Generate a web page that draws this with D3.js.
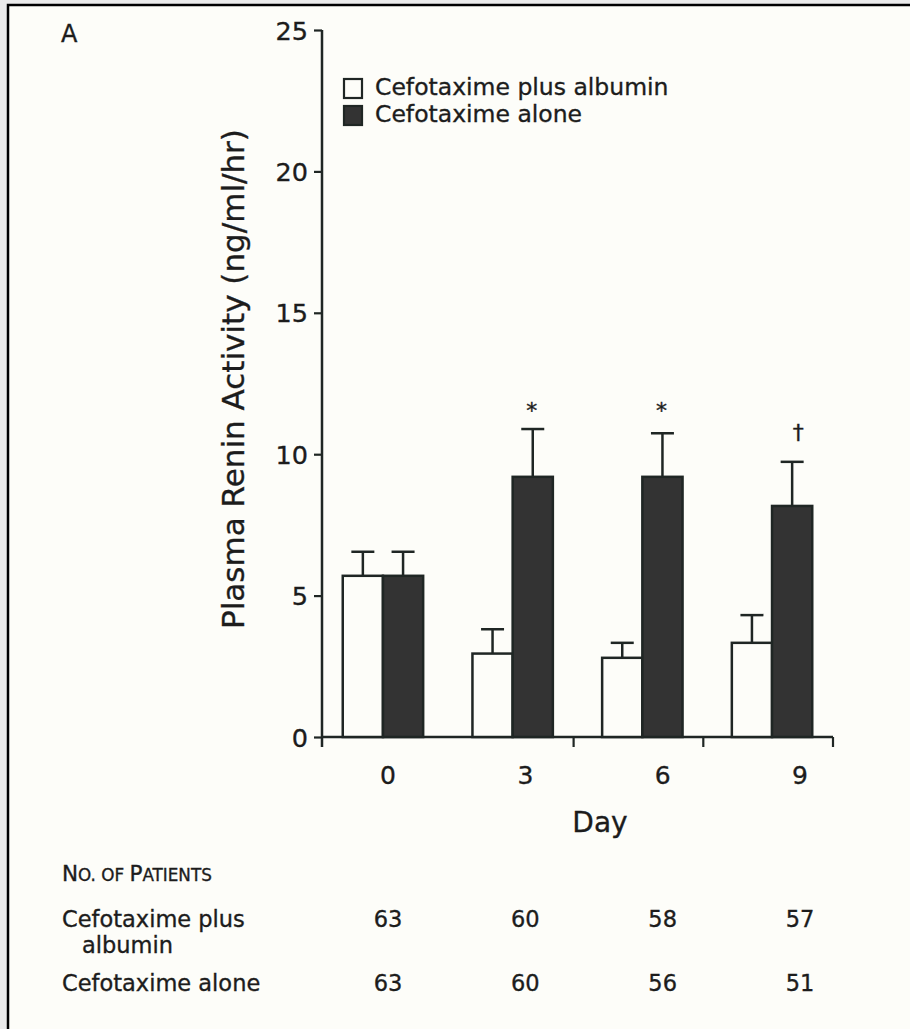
<!DOCTYPE html>
<html>
<head>
<meta charset="utf-8">
<script src="https://cdn.jsdelivr.net/npm/d3@7/dist/d3.min.js"></script>
<style>
  html, body { margin: 0; padding: 0; background: #ebebeb; }
  svg { display: block; }
  text { font-family: "DejaVu Sans", sans-serif; fill: #1c1c1c; stroke: #1c1c1c; stroke-width: 0.35px; }
</style>
</head>
<body>
<svg id="chart" width="910" height="1029"></svg>
<script>
// Plasma renin activity by day, two treatment groups (mean + SE)
const days = ["0", "3", "6", "9"];
const seriesNames = ["Cefotaxime plus albumin", "Cefotaxime alone"];
const albuminMean = [5.70, 2.95, 2.80, 3.33];
const albuminSE   = [0.85, 0.86, 0.53, 0.98];
const aloneMean   = [5.70, 9.20, 9.20, 8.17];
const aloneSE     = [0.85, 1.69, 1.54, 1.56];
const yTicks = [0, 5, 10, 15, 20, 25];
// significance marks placed above the "alone" bars (value = height in ng/ml/hr)
const marks = [
  { day: "3", symbol: "*", value: 11.28 },
  { day: "6", symbol: "*", value: 11.28 },
  { day: "9", symbol: "\u2020", value: 10.49 }
];
// number of patients table
const patientsAlbumin = [63, 60, 58, 57];
const patientsAlone   = [63, 60, 56, 51];

const svg = d3.select("#chart");

// page panel with frame on top and left
svg.append("rect").attr("x", 8).attr("y", 5).attr("width", 902).attr("height", 1024)
  .attr("fill", "#fdfdf9");
svg.append("path").attr("d", "M8,1029 V5 H910")
  .attr("fill", "none").attr("stroke", "#000").attr("stroke-width", 2.5);

const x0 = 322, x1 = 833, yTop = 30, yBottom = 737;

const x = d3.scaleBand().domain(days).range([x0, x1]).paddingInner(0.38).paddingOuter(0.16);
const xs = d3.scaleBand().domain([0, 1]).range([0, x.bandwidth()]);
const y = d3.scaleLinear().domain([0, 25]).range([yBottom, yTop]);
// columns for day labels and the patient table
const col = d3.scalePoint().domain(days).range([388, 800]);

const ink = "#1f2624";

// panel letter
svg.append("text").attr("x", 61).attr("y", 42).attr("font-size", 24).text("A");

// y axis
const yAxis = d3.axisLeft(y).tickValues(yTicks).tickSize(8).tickSizeOuter(0).tickPadding(6);
const gy = svg.append("g").attr("transform", `translate(${x0},0)`).call(yAxis);
gy.select(".domain").attr("stroke", ink).attr("stroke-width", 2.5)
  .attr("d", `M0,${yTop}V${yBottom + 10}`);
gy.selectAll(".tick line").attr("stroke", ink).attr("stroke-width", 2.2);
gy.selectAll(".tick text").attr("font-size", 25.5).attr("font-family", "DejaVu Sans")
  .attr("fill", "#1c1c1c").attr("dy", "0.36em");

// x axis: baseline with ticks at the day boundaries
const boundaries = [x1 - 3 * x.step(), x1 - 2 * x.step(), x1 - x.step(), x1].slice(1);
svg.append("line").attr("x1", x0).attr("x2", x1).attr("y1", yBottom).attr("y2", yBottom)
  .attr("stroke", ink).attr("stroke-width", 2.5);
svg.selectAll("line.xtick").data(boundaries).join("line").attr("class", "xtick")
  .attr("x1", d => d).attr("x2", d => d).attr("y1", yBottom).attr("y2", yBottom + 10)
  .attr("stroke", ink).attr("stroke-width", 2.2);

svg.selectAll("text.xlab").data(days).join("text").attr("class", "xlab")
  .attr("x", d => col(d)).attr("y", 784).attr("text-anchor", "middle")
  .attr("font-size", 25).text(d => d);

svg.append("text").attr("x", 600).attr("y", 832).attr("text-anchor", "middle")
  .attr("font-size", 28).text("Day");

svg.append("text")
  .attr("transform", `translate(244,${(128 + 630) / 2}) rotate(-90)`)
  .attr("text-anchor", "middle").attr("font-size", 31)
  .text("Plasma Renin Activity (ng/ml/hr)");

// bars
const rows = days.map((d, i) => [
  { day: d, s: 0, mean: albuminMean[i], se: albuminSE[i] },
  { day: d, s: 1, mean: aloneMean[i], se: aloneSE[i] }
]).flat();
const fills = ["#fdfdf9", "#333333"];

svg.selectAll("line.err").data(rows).join("line").attr("class", "err")
  .attr("x1", d => x(d.day) + xs(d.s) + xs.bandwidth() / 2)
  .attr("x2", d => x(d.day) + xs(d.s) + xs.bandwidth() / 2)
  .attr("y1", d => y(d.mean)).attr("y2", d => y(d.mean + d.se))
  .attr("stroke", ink).attr("stroke-width", 2.5);
svg.selectAll("line.cap").data(rows).join("line").attr("class", "cap")
  .attr("x1", d => x(d.day) + xs(d.s) + xs.bandwidth() / 2 - 11.5)
  .attr("x2", d => x(d.day) + xs(d.s) + xs.bandwidth() / 2 + 11.5)
  .attr("y1", d => y(d.mean + d.se)).attr("y2", d => y(d.mean + d.se))
  .attr("stroke", ink).attr("stroke-width", 2.5);

svg.selectAll("rect.bar").data(rows).join("rect").attr("class", "bar")
  .attr("x", d => x(d.day) + xs(d.s)).attr("width", xs.bandwidth())
  .attr("y", d => y(d.mean)).attr("height", d => yBottom - y(d.mean))
  .attr("fill", d => fills[d.s]).attr("stroke", ink).attr("stroke-width", 2.5);

// significance marks
svg.selectAll("text.mark").data(marks).join("text").attr("class", "mark")
  .attr("x", d => x(d.day) + xs(1) + xs.bandwidth() / 2 + (d.symbol === "*" ? -1 : 6))
  .attr("y", d => y(d.value)).attr("text-anchor", "middle")
  .attr("font-size", 22).text(d => d.symbol);

// legend
const lg = svg.append("g").attr("transform", "translate(343,78)");
seriesNames.forEach((name, i) => {
  lg.append("rect").attr("x", 1).attr("y", i * 27 + 1).attr("width", 18).attr("height", 19)
    .attr("fill", fills[i]).attr("stroke", ink).attr("stroke-width", 2.2);
  lg.append("text").attr("x", 32).attr("y", i * 27 + 17).attr("font-size", 23.5).text(name);
});

// patient numbers table
const tfs = 22.5;
const head = svg.append("text").attr("x", 62).attr("y", 881).attr("font-size", tfs - 1);
head.append("tspan").text("N");
head.append("tspan").attr("font-size", (tfs - 1) * 0.78).text("O. OF ");
head.append("tspan").text("P");
head.append("tspan").attr("font-size", (tfs - 1) * 0.78).text("ATIENTS");

svg.append("text").attr("x", 62).attr("y", 927).attr("font-size", tfs).text("Cefotaxime plus");
svg.append("text").attr("x", 82).attr("y", 953).attr("font-size", tfs).text("albumin");
svg.append("text").attr("x", 62).attr("y", 991).attr("font-size", tfs).text("Cefotaxime alone");

svg.selectAll("text.n1").data(patientsAlbumin).join("text").attr("class", "n1")
  .attr("x", (d, i) => col(days[i])).attr("y", 927).attr("text-anchor", "middle")
  .attr("font-size", tfs).text(d => d);
svg.selectAll("text.n2").data(patientsAlone).join("text").attr("class", "n2")
  .attr("x", (d, i) => col(days[i])).attr("y", 991).attr("text-anchor", "middle")
  .attr("font-size", tfs).text(d => d);
</script>
</body>
</html>
